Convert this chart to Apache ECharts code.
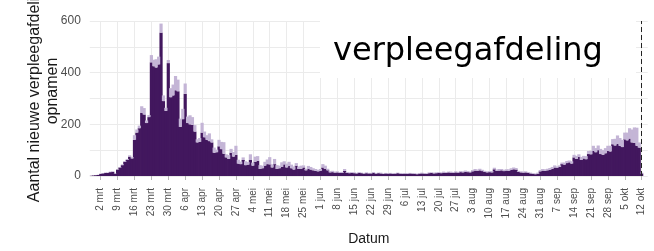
<!DOCTYPE html>
<html><head><meta charset="utf-8">
<script src="https://cdn.jsdelivr.net/npm/echarts@6/dist/echarts.min.js"></script>
<style>html,body{margin:0;padding:0;background:#fff}#c{width:654px;height:251px}</style>
</head><body><div id="c"></div>
<script>
// Axis domain: one category per day, 27 feb 2020 .. 14 okt 2020
const firstDay = [2020, 1, 27];
const dayCount = 231;
const monthNames = ['jan','feb','mrt','apr','mei','jun','jul','aug','sep','okt','nov','dec'];

const tickLabels = ['2 mrt','9 mrt','16 mrt','23 mrt','30 mrt','6 apr','13 apr','20 apr','27 apr',
  '4 mei','11 mei','18 mei','25 mei','1 jun','8 jun','15 jun','22 jun','29 jun','6 jul','13 jul',
  '20 jul','27 jul','3 aug','10 aug','17 aug','24 aug','31 aug','7 sep','14 sep','21 sep','28 sep',
  '5 okt','12 okt'];

const yTickValues = [0, 200, 400, 600];
const markerDay = '12 okt';
const panelLabel = 'verpleegafdeling';
const xTitle = 'Datum';
const yTitle = 'Aantal nieuwe verpleegafdeling\nopnamen';

// dark part of each bar (27 feb .. 12 okt)
const darkValues = [
  1, 2, 3, 4,
  8, 10, 12, 12, 15, 16, 9,
  25, 33, 42, 55, 62, 75, 68,
  140, 168, 185, 245, 238, 205, 228,
  440, 425, 420, 432, 555, 290, 252,
  437, 305, 312, 332, 328, 190, 220,
  318, 205, 200, 198, 172, 130, 132,
  168, 150, 140, 135, 130, 90, 92,
  115, 104, 86, 72, 66, 90, 75,
  82, 48, 46, 62, 42, 44, 62,
  40, 55, 59, 27, 30, 40, 46,
  45, 33, 46, 27, 30, 35, 45,
  33, 40, 30, 25, 40, 27, 28,
  33, 22, 27, 25, 22, 20, 18,
  20, 33, 27, 22, 14, 15, 13,
  14, 12, 12, 20, 12, 11, 12,
  11, 10, 12, 11, 9, 11, 10,
  10, 12, 9, 11, 10, 8, 10,
  9, 10, 8, 9, 11, 9, 8,
  9, 8, 10, 9, 8, 7, 9,
  10, 9, 8, 11, 12, 10, 11,
  12, 11, 13, 12, 14, 13, 12,
  14, 13, 15, 14, 16, 15, 14,
  18, 21, 20, 22, 19, 16, 14,
  15, 14, 26, 20, 21, 22, 19,
  21, 20, 24, 26, 25, 16, 14,
  13, 14, 12, 10, 8, 7, 9,
  18, 21, 20, 22, 24, 28, 33,
  32, 35, 46, 44, 50, 53, 48,
  72, 66, 74, 62, 68, 65, 85,
  84, 97, 92, 100, 85, 82, 88,
  97, 95, 123, 118, 125, 117, 112,
  142, 138, 145, 130, 128, 117, 110,
  10
];

// light part stacked on top of each bar
const lightValues = [
  0, 0, 0, 1,
  1, 1, 1, 1, 2, 2, 1,
  2, 2, 3, 3, 4, 5, 5,
  18, 12, 10, 25, 25, 10, 8,
  28, 25, 32, 30, 35, 22, 12,
  12, 35, 42, 55, 45, 32, 40,
  40, 25, 35, 30, 25, 12, 15,
  38, 22, 18, 30, 12, 20, 10,
  25, 28, 45, 12, 15, 15, 18,
  35, 15, 10, 10, 15, 10, 22,
  12, 20, 18, 15, 10, 15, 18,
  28, 12, 20, 15, 10, 18, 12,
  15, 15, 14, 12, 10, 10, 12,
  8, 6, 12, 10, 8, 7, 6,
  7, 13, 13, 6, 5, 5, 4,
  4, 3, 4, 7, 3, 3, 3,
  3, 2, 3, 2, 2, 3, 2,
  2, 3, 2, 2, 3, 2, 2,
  2, 2, 3, 2, 2, 2, 3,
  2, 3, 2, 2, 3, 2, 2,
  3, 2, 3, 3, 2, 3, 3,
  3, 3, 4, 3, 3, 4, 3,
  4, 3, 4, 4, 5, 4, 3,
  5, 6, 5, 6, 5, 4, 4,
  4, 5, 6, 5, 6, 5, 5,
  5, 6, 6, 7, 6, 4, 4,
  4, 4, 3, 3, 3, 3, 4,
  5, 6, 6, 6, 7, 7, 8,
  5, 6, 6, 8, 8, 7, 9,
  10, 12, 10, 12, 10, 12, 12,
  14, 20, 16, 18, 20, 18, 20,
  20, 22, 20, 26, 32, 30, 28,
  26, 30, 40, 50, 60, 70, 20,
  3
];

const categories = [];
for (let i = 0; i < dayCount; i++) {
  const d = new Date(Date.UTC(firstDay[0], firstDay[1], firstDay[2] + i));
  categories.push(d.getUTCDate() + ' ' + monthNames[d.getUTCMonth()]);
}
const tickSet = new Set(tickLabels);
const isTick = (idx, val) => tickSet.has(categories[idx]);

const DARK = '#42175e';
const LIGHT = '#c4b5d6';
const FONT = '"Liberation Sans", Arial, sans-serif';
const chart = echarts.init(document.getElementById('c'), null, {renderer: 'canvas'});
chart.setOption({
  animation: false,
  backgroundColor: '#ffffff',
  grid: {left: 89.8, right: 6.3, top: 21, bottom: 74, containLabel: false},
  xAxis: {
    type: 'category', data: categories, boundaryGap: true, offset: 6,
    axisLine: {show: false},
    axisTick: {show: true, alignWithLabel: true, interval: isTick, length: 4, lineStyle: {color: '#b8b8b8'}},
    axisLabel: {interval: isTick, rotate: 90, fontSize: 10, color: '#4d4d4d', margin: 6, fontFamily: FONT},
    splitLine: {show: true, interval: isTick, alignWithLabel: true, lineStyle: {color: '#ebebeb', width: 1}},
    name: xTitle, nameLocation: 'middle', nameGap: 50,
    nameTextStyle: {fontSize: 14, color: '#1a1a1a', fontFamily: FONT}
  },
  yAxis: {
    type: 'value', min: 0, max: 600, interval: 100,
    axisLine: {show: false},
    axisTick: {show: false},
    axisLabel: {fontSize: 12, color: '#4d4d4d', margin: 9, fontFamily: FONT,
      formatter: v => yTickValues.includes(v) ? String(v) : ''},
    splitLine: {show: true, lineStyle: {color: '#ebebeb', width: 1}}
  },
  series: [
    {type: 'bar', stack: 'a', data: darkValues, barWidth: 3.2,
      itemStyle: {color: DARK},
      markLine: {silent: true, symbol: 'none', label: {show: false},
        lineStyle: {color: '#222', type: [5, 3], width: 1},
        data: [{xAxis: markerDay}]}},
    {type: 'bar', stack: 'a', data: lightValues, barWidth: 3.2,
      itemStyle: {color: LIGHT}}
  ],
  graphic: [
    {type: 'text', z: 6, x: 43.5, y: 91, rotation: Math.PI / 2,
      style: {text: yTitle, fontSize: 16, lineHeight: 17.5, fontFamily: FONT, fill: '#1a1a1a',
        align: 'center', verticalAlign: 'middle'}},
    {type: 'rect', z: 5, shape: {x: 320, y: 20, width: 316, height: 58}, style: {fill: '#ffffff'}},
    {type: 'text', z: 6, left: 333, top: 36, style: {text: panelLabel, fontSize: 32,
      fontFamily: '"DejaVu Sans", Verdana, sans-serif', fill: '#000000'}}
  ]
});
</script>
</body></html>
